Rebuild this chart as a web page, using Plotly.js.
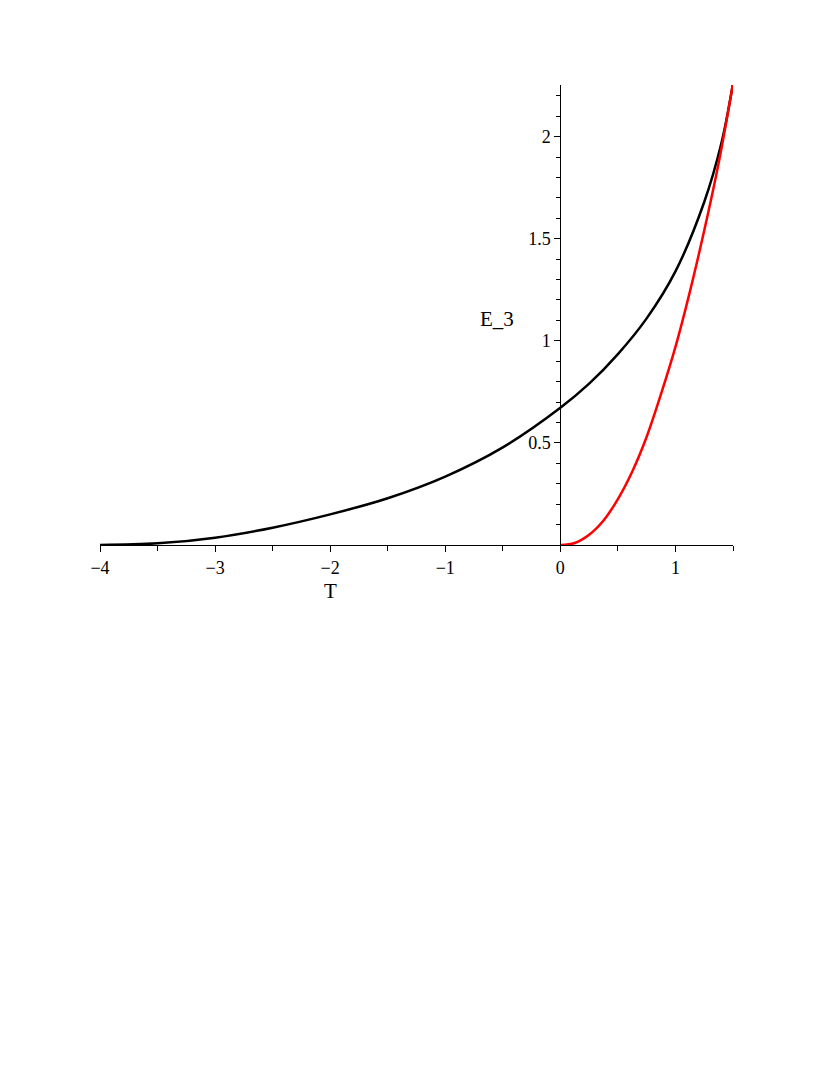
<!DOCTYPE html>
<html>
<head>
<meta charset="utf-8">
<script src="https://cdn.plot.ly/plotly-3.0.1.min.js"></script>
<style>
  body { margin: 0; background: #fff; }
  #plot { width: 830px; height: 1075px; }
</style>
</head>
<body>
<div id="plot"></div>
<script>
// values
var blackT = [-4, -3.5, -3, -2.5, -2, -1.5, -1, -0.5, 0, 0.25, 0.5, 0.75, 1, 1.25, 1.4, 1.5];
var blackE = [0, 0.008, 0.036, 0.085, 0.150, 0.229, 0.335, 0.478, 0.672, 0.79, 0.935, 1.11, 1.34, 1.68, 1.97, 2.26];

var redT = [0, 0.125, 0.25, 0.375, 0.5, 0.625, 0.75, 0.875, 1, 1.125, 1.25, 1.375, 1.5];
var redE = [0, 0.01, 0.05, 0.12, 0.225, 0.36, 0.53, 0.74, 0.97, 1.24, 1.54, 1.87, 2.26];

var xTicks = [-4, -3, -2, -1, 0, 1];
var xLabels = ['\u22124', '\u22123', '\u22122', '\u22121', '0', '1'];
var yTicks = [0.5, 1, 1.5, 2];
var yLabels = ['0.5', '1', '1.5', '2'];

var serif = 'Liberation Serif';

var traces = [
    {x: blackT, y: blackE, mode: 'lines', type: 'scatter',
     line: {color: '#000000', width: 2.5, shape: 'spline', smoothing: 1}},
    {x: redT, y: redE, mode: 'lines', type: 'scatter',
     line: {color: '#ff0000', width: 2.5, shape: 'spline', smoothing: 1}}
];

var layout = {
    width: 830,
    height: 1075,
    margin: {l: 100, r: 97, t: 85, b: 530},
    paper_bgcolor: '#ffffff',
    plot_bgcolor: '#ffffff',
    showlegend: false,
    font: {family: serif, size: 18, color: '#000'},
    xaxis: {
        range: [-4, 1.5],
        showgrid: false, zeroline: false,
        showline: true, linecolor: '#000', linewidth: 1,
        ticks: 'outside', ticklen: 6, tickcolor: '#000',
        tickmode: 'array', tickvals: xTicks, ticktext: xLabels,
        minor: {dtick: 0.5, tick0: 0, ticks: 'outside', ticklen: 5, tickcolor: '#000'},
        tickfont: {family: serif, size: 18, color: '#000'}
    },
    yaxis: {
        range: [0, 2.253],
        anchor: 'free', position: 4 / 5.5,   // vertical axis crosses at T = 0
        showgrid: false, zeroline: false,
        showline: true, linecolor: '#000', linewidth: 1,
        ticks: 'outside', ticklen: 6, tickcolor: '#000',
        tickmode: 'array', tickvals: yTicks, ticktext: yLabels,
        minor: {dtick: 0.1, tick0: 0, ticks: 'outside', ticklen: 4, tickcolor: '#000'},
        tickfont: {family: serif, size: 18, color: '#000'}
    },
    annotations: [
        // axis names sit where the source plot put them
        {text: 'T', x: -2, y: 0, xref: 'x', yref: 'y', yshift: -46, showarrow: false,
         font: {family: serif, size: 21}},
        {text: 'E_3', x: 0, y: 1.05, xref: 'x', yref: 'y', xshift: -63, yshift: 12,
         showarrow: false, font: {family: serif, size: 21}}
    ]
};

Plotly.newPlot('plot', traces, layout, {displayModeBar: false, staticPlot: true});
</script>
</body>
</html>
